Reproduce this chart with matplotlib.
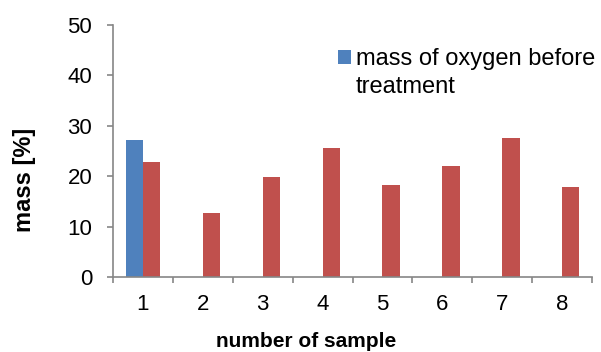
import numpy as np
import matplotlib.pyplot as plt
from matplotlib.ticker import FixedLocator

plt.rcParams['font.family'] = ['Liberation Sans', 'DejaVu Sans']

samples = ['1', '2', '3', '4', '5', '6', '7', '8']
before = [27.2, np.nan, np.nan, np.nan, np.nan, np.nan, np.nan, np.nan]
after = [22.8, 12.6, 19.9, 25.6, 18.3, 22.0, 27.5, 17.8]

fig = plt.figure(figsize=(6.01, 3.52), dpi=100)
ax = fig.add_axes([113 / 601, 1 - 277 / 352, 479 / 601, 252 / 352])

x = np.arange(len(samples))
w = 0.29
ax.bar(x - w / 2, before, w, color='#4F81BD', label='mass of oxygen before')
ax.bar(x + w / 2, after, w, color='#C0504D')

ax.set_xlim(-0.5, len(samples) - 0.5)
ax.set_ylim(0, 50)
ax.set_yticks(range(0, 51, 10))
ax.set_xticks(x)
ax.set_xticklabels(samples)
ax.xaxis.set_minor_locator(FixedLocator(np.arange(-0.5, len(samples), 1)))
ax.tick_params(axis='x', which='major', length=0, pad=12.5, labelsize=16)
ax.tick_params(axis='x', which='minor', length=4.5, color='#868686', width=1.2)
ax.tick_params(axis='y', length=4.5, color='#868686', width=1.2, labelsize=16, pad=10.5)

for side in ['top', 'right']:
    ax.spines[side].set_visible(False)
for side in ['left', 'bottom']:
    ax.spines[side].set_color('#868686')
    ax.spines[side].set_linewidth(1.2)

ax.set_ylabel('mass [%]', fontsize=17, fontweight='bold')
ax.yaxis.set_label_coords(-0.161, 0.385)
ax.set_xlabel('number of sample', fontsize=15, fontweight='bold')
ax.xaxis.set_label_coords(0.404, -0.22)

# legend label wraps onto a second line, square stays next to the first line
fig.legend(loc='upper left', bbox_to_anchor=(338 / 601, 1 - 48 / 352), frameon=False,
           fontsize=17, handlelength=0.55, handleheight=0.55, handletextpad=0.2,
           borderaxespad=0, borderpad=0)
fig.text(356 / 601, 1 - 93 / 352, 'treatment', fontsize=17, va='baseline')

fig.savefig('out.png', dpi=100)
